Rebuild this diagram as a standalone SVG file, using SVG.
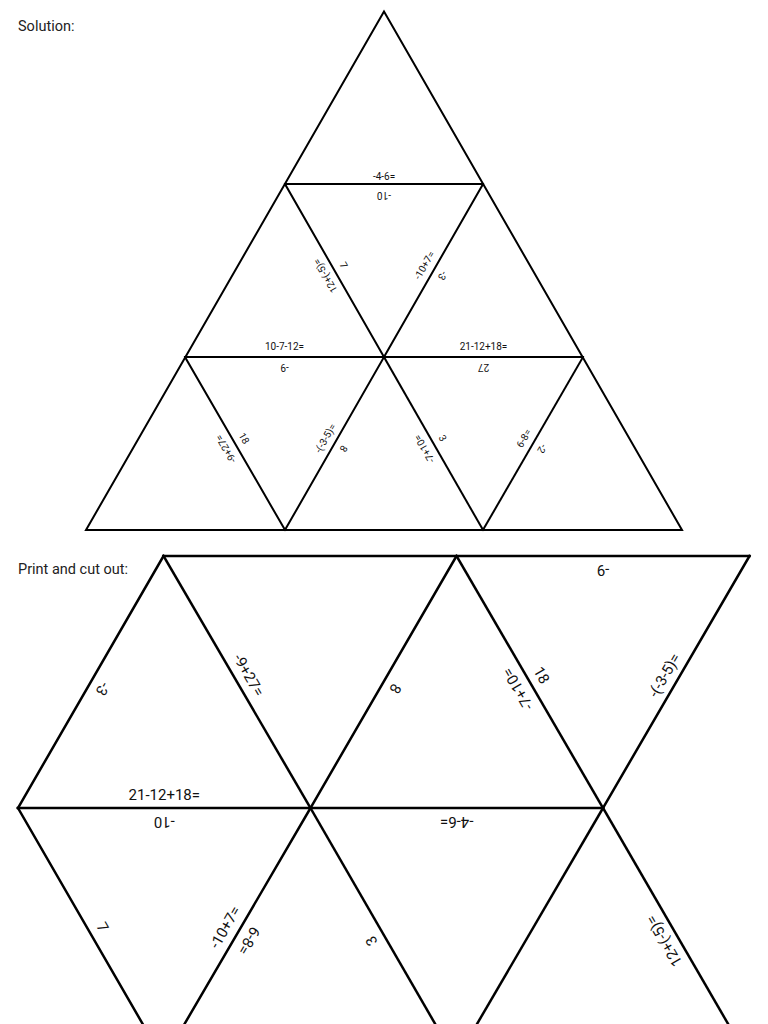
<svg xmlns="http://www.w3.org/2000/svg" width="768" height="1024" viewBox="0 0 768 1024">
<style>
.ttl{font-family:Roboto,"Liberation Sans",sans-serif;font-size:14.5px;fill:#222}
.s{font-family:Roboto,"Liberation Sans",sans-serif;font-size:10px;fill:#111;text-anchor:middle}
.b{font-family:Roboto,"Liberation Sans",sans-serif;font-size:15px;fill:#111;text-anchor:middle}
.ln{stroke:#000;stroke-width:2;fill:none;stroke-linejoin:miter;stroke-linecap:square}
.lb{stroke:#000;stroke-width:2.5;fill:none;stroke-linejoin:miter;stroke-linecap:square}
</style>
<rect width="768" height="1024" fill="#fff"/>
<text class="ttl" x="18" y="31">Solution:</text>
<text class="ttl" x="18" y="574">Print and cut out:</text>

<g id="solution">
<g id="solution-lines">
<polygon class="ln" points="384,11.5 86,530 682,530"/>
<line class="ln" x1="285" y1="184" x2="483" y2="184"/>
<line class="ln" x1="185" y1="357" x2="583" y2="357"/>
<polyline class="ln" points="285,184 384,357 483,184"/>
<line class="ln" x1="185" y1="357" x2="285" y2="530"/>
<line class="ln" x1="384" y1="357" x2="285" y2="530"/>
<line class="ln" x1="384" y1="357" x2="483" y2="530"/>
<line class="ln" x1="583" y1="357" x2="483" y2="530"/>
</g>
<g id="solution-labels">
<text class="s" transform="translate(384,184)" y="-4">-4-6=</text>
<text class="s" transform="translate(384,184) rotate(180)" y="-7.5">-10</text>
<text class="s" transform="translate(334.5,270.5) rotate(-120)" y="-7">12+(-5)=</text>
<text class="s" transform="translate(334.5,270.5) rotate(60)" y="-7">7</text>
<text class="s" transform="translate(433.5,270.5) rotate(-60)" y="-7">-10+7=</text>
<text class="s" transform="translate(433.5,270.5) rotate(120)" y="-7">-3</text>
<text class="s" transform="translate(284.5,357)" y="-7">10-7-12=</text>
<text class="s" transform="translate(284.5,357) rotate(180)" y="-7">-9</text>
<text class="s" transform="translate(483.5,357)" y="-7">21-12+18=</text>
<text class="s" transform="translate(483.5,357) rotate(180)" y="-7">27</text>
<text class="s" transform="translate(235,443.5) rotate(-120)" y="-7">-9+27=</text>
<text class="s" transform="translate(235,443.5) rotate(60)" y="-7">18</text>
<text class="s" transform="translate(334.5,443.5) rotate(-60)" y="-7">-(-3-5)=</text>
<text class="s" transform="translate(334.5,443.5) rotate(120)" y="-7">8</text>
<text class="s" transform="translate(433.5,443.5) rotate(-120)" y="-7">-7+10=</text>
<text class="s" transform="translate(433.5,443.5) rotate(60)" y="-7">3</text>
<text class="s" transform="translate(533,443.5) rotate(-60)" y="-7">6-8=</text>
<text class="s" transform="translate(533,443.5) rotate(120)" y="-7">-2</text>
</g>
</g>

<g id="cutout">
<g id="cutout-lines">
<line class="lb" x1="163.5" y1="556" x2="749.5" y2="556"/>
<line class="lb" x1="18" y1="808" x2="603" y2="808"/>
<line class="lb" x1="163.5" y1="556" x2="18" y2="808"/>
<line class="lb" x1="163.5" y1="556" x2="310.5" y2="808"/>
<line class="lb" x1="456.5" y1="556" x2="310.5" y2="808"/>
<line class="lb" x1="456.5" y1="556" x2="603" y2="808"/>
<line class="lb" x1="749.5" y1="556" x2="603" y2="808"/>
<line class="lb" x1="18" y1="808" x2="163.5" y2="1060"/>
<line class="lb" x1="310.5" y1="808" x2="163.5" y2="1060"/>
<line class="lb" x1="310.5" y1="808" x2="456" y2="1060"/>
<line class="lb" x1="603" y1="808" x2="456" y2="1060"/>
<line class="lb" x1="603" y1="808" x2="749" y2="1060"/>
</g>
<g id="cutout-labels">
<text class="b" transform="translate(90.75,682) rotate(120)" y="-8.5">-3</text>
<text class="b" transform="translate(237,682) rotate(60)" y="-8.5">-9+27=</text>
<text class="b" transform="translate(383.5,682) rotate(120)" y="-8.5">8</text>
<text class="b" transform="translate(529.75,682) rotate(-120)" y="-8.5">-7+10=</text>
<text class="b" transform="translate(529.75,682) rotate(60)" y="-8.5">18</text>
<text class="b" transform="translate(603,556) rotate(180)" y="-9">-9</text>
<text class="b" transform="translate(676.25,682) rotate(-60)" y="-8.5">-(-3-5)=</text>
<text class="b" transform="translate(164.25,808)" y="-8">21-12+18=</text>
<text class="b" transform="translate(164.25,808) rotate(180)" y="-8.5">-10</text>
<text class="b" transform="translate(456.75,808) rotate(180)" y="-8.5">-4-6=</text>
<text class="b" transform="translate(90.75,934) rotate(60)" y="-8.5">7</text>
<text class="b" transform="translate(237,934) rotate(-60)" y="-8.5">-10+7=</text>
<text class="b" transform="translate(237,934) rotate(120)" y="-8.5">6-8=</text>
<text class="b" transform="translate(383.25,934) rotate(-120)" y="-8.5">3</text>
<text class="b" transform="translate(676,934) rotate(-120)" y="-8.5">12+(-5)=</text>
</g>
</g>
</svg>
